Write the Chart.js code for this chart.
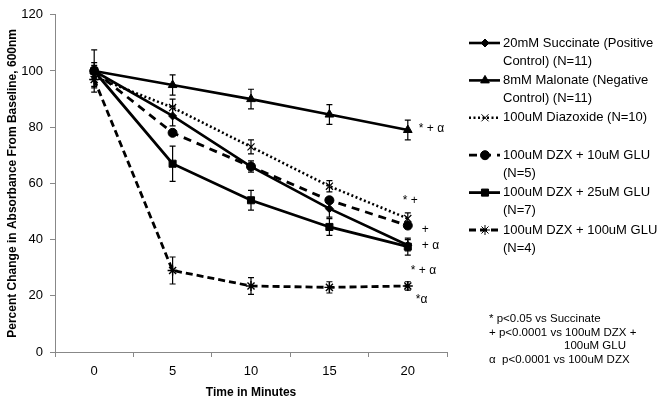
<!DOCTYPE html>
<html>
<head>
<meta charset="utf-8">
<script src="https://cdn.jsdelivr.net/npm/chart.js@4/dist/chart.umd.min.js"></script>
<style>
  html, body { margin: 0; padding: 0; background: #fff; }
  #wrap { width: 662px; height: 401px; }
</style>
</head>
<body>
<div id="wrap"><canvas id="chart"></canvas></div>
<script>
const minutes = ['0', '5', '10', '15', '20'];
const yTicks = [0, 20, 40, 60, 80, 100, 120];

const succinate = [100, 84, 66, 51, 38];
const succinateErr = [3, 3.5, 2, 3, 2];
const malonate = [100, 95, 90, 84.5, 79];
const malonateErr = [2, 3.6, 3.5, 3.5, 3.5];
const diazoxide = [98, 87, 73, 59, 47.5];
const diazoxideErr = [3.5, 3, 2.5, 2, 2];
const dzx10 = [100, 78, 66, 54, 45];
const dzx10Err = [1, 1, 1, 1, 1];
const dzx25 = [100, 67, 54, 44.5, 37.5];
const dzx25Err = [7.5, 6.3, 3.5, 3, 3];
const dzx100 = [97, 29, 23.5, 23, 23.5];
const dzx100Err = [3, 4.8, 3, 2, 1.5];

const legendLabels = [
    ['20mM Succinate (Positive', 'Control) (N=11)'],
    ['8mM Malonate (Negative', 'Control) (N=11)'],
    ['100uM Diazoxide (N=10)'],
    ['100uM DZX + 10uM GLU', '(N=5)'],
    ['100uM DZX + 25uM GLU', '(N=7)'],
    ['100uM DZX + 100uM GLU', '(N=4)']
];

// significance marks next to the 20 minute points
const noteText = ['* + \u03b1', '* +', '+', '+ \u03b1', '* + \u03b1', '*\u03b1'];
const noteValue = [79.5, 54, 43.5, 38, 29, 18.5];
const noteDx = [11, -5, 14, 14, 3, 8];

const footnotes = [
    ['* p<0.05 vs Succinate', 489, 319],
    ['+ p<0.0001 vs 100uM DZX +', 489, 333],
    ['100uM GLU', 564, 346],
    ['\u03b1  p<0.0001 vs 100uM DZX', 489, 360]
];

const FONT = '"Liberation Sans", Arial, sans-serif';

const mkSet = (label, data, err, style, dash, width) => ({
    label, data, err,
    borderColor: '#000',
    backgroundColor: '#000',
    borderWidth: width,
    borderDash: dash,
    pointStyle: style.shape,
    pointRadius: style.r,
    pointBorderWidth: style.bw,
    pointBorderColor: '#000',
    pointBackgroundColor: '#000',
    tension: 0
});

const datasets = [
    mkSet('Succinate', succinate, succinateErr, { shape: 'rectRot', r: 4, bw: 1 }, [], 2.6),
    mkSet('Malonate', malonate, malonateErr, { shape: 'triangle', r: 5, bw: 1 }, [], 2.6),
    mkSet('Diazoxide', diazoxide, diazoxideErr, { shape: 'crossRot', r: 5, bw: 1.2 }, [2, 2.5], 2.6),
    mkSet('DZX10', dzx10, dzx10Err, { shape: 'circle', r: 4.5, bw: 1 }, [8, 6], 2.8),
    mkSet('DZX25', dzx25, dzx25Err, { shape: 'rect', r: 5, bw: 1 }, [], 2.8),
    mkSet('DZX100', dzx100, dzx100Err, { shape: 'star', r: 5, bw: 1.4 }, [7, 4], 2.8)
];

const errorBars = {
    id: 'errorBars',
    afterDatasetsDraw(chart) {
        const { ctx, scales: { x, y } } = chart;
        ctx.save();
        ctx.strokeStyle = '#000';
        ctx.lineWidth = 1.2;
        chart.data.datasets.forEach(ds => {
            ds.data.forEach((v, i) => {
                const e = ds.err[i];
                const px = x.getPixelForValue(i);
                const top = y.getPixelForValue(v + e);
                const bot = y.getPixelForValue(v - e);
                ctx.beginPath();
                ctx.moveTo(px, top); ctx.lineTo(px, bot);
                ctx.moveTo(px - 3, top); ctx.lineTo(px + 3, top);
                ctx.moveTo(px - 3, bot); ctx.lineTo(px + 3, bot);
                ctx.stroke();
            });
        });
        ctx.restore();
    }
};

const sideText = {
    id: 'sideText',
    afterDraw(chart) {
        const { ctx, scales: { x, y } } = chart;
        ctx.save();
        ctx.fillStyle = '#000';
        ctx.textBaseline = 'middle';
        ctx.textAlign = 'left';

        // marks at 20 min
        ctx.font = '12px ' + FONT;
        const last = x.getPixelForValue(minutes.length - 1);
        noteText.forEach((t, i) => {
            ctx.fillText(t, last + noteDx[i], y.getPixelForValue(noteValue[i]));
        });

        // legend
        ctx.font = '13px ' + FONT;
        chart.data.datasets.forEach((ds, i) => {
            const rowY = 43 + i * 37.4;
            ctx.save();
            ctx.strokeStyle = '#000';
            ctx.lineWidth = ds.borderWidth;
            ctx.setLineDash(ds.borderDash);
            ctx.beginPath();
            ctx.moveTo(469, rowY); ctx.lineTo(500, rowY);
            ctx.stroke();
            ctx.restore();
            Chart.helpers.drawPoint(ctx, {
                pointStyle: ds.pointStyle,
                radius: ds.pointRadius,
                borderWidth: ds.pointBorderWidth,
                rotation: 0
            }, 485, rowY);
            legendLabels[i].forEach((line, k) => {
                ctx.fillText(line, 503, rowY + k * 18);
            });
        });

        // footnotes
        ctx.font = '11.5px ' + FONT;
        footnotes.forEach(([t, fx, fy]) => ctx.fillText(t, fx, fy));
        ctx.restore();
    }
};

new Chart(document.getElementById('chart'), {
    type: 'line',
    data: { labels: minutes, datasets },
    options: {
        responsive: true,
        maintainAspectRatio: false,
        animation: false,
        layout: { padding: { top: 11, right: 215, left: 3, bottom: 0 } },
        plugins: { legend: { display: false }, tooltip: { enabled: false } },
        scales: {
            x: {
                type: 'category',
                offset: true,
                afterFit(s) { s.height = 49; },
                grid: { offset: true, drawOnChartArea: false, tickLength: 5, color: '#888' },
                border: { color: '#888', width: 1 },
                ticks: { color: '#000', padding: 7, font: { family: FONT, size: 13 } },
                title: {
                    display: true, text: 'Time in Minutes', color: '#000',
                    font: { family: FONT, size: 12, weight: 'bold' }, padding: { top: 6, bottom: 1 }
                }
            },
            y: {
                min: 0, max: 120,
                afterFit(s) { s.width = 52; },
                afterBuildTicks(s) { s.ticks = yTicks.map(v => ({ value: v })); },
                grid: { drawOnChartArea: false, tickLength: 5, color: '#888' },
                border: { color: '#888', width: 1 },
                ticks: { color: '#000', padding: 7, font: { family: FONT, size: 13 } },
                title: {
                    display: true, text: 'Percent Change in Absorbance From Baseline, 600nm', color: '#000',
                    font: { family: FONT, size: 12, weight: 'bold' }, padding: { top: 2, bottom: 0 }
                }
            }
        }
    },
    plugins: [errorBars, sideText]
});
</script>
</body>
</html>
